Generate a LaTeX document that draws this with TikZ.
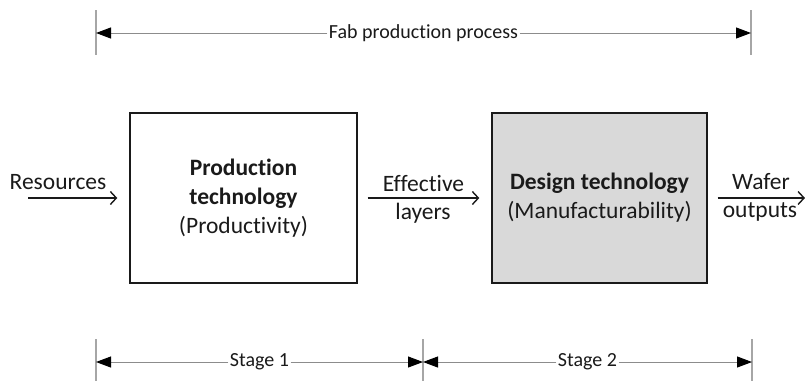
\documentclass[tikz,border=0pt]{standalone}
\usepackage{fontspec}
\setmainfont{Carlito}[Ligatures={NoCommon}]
\usetikzlibrary{arrows.meta}
\definecolor{ink}{HTML}{1A1A1A}
\definecolor{dimgray}{HTML}{8C8C8C}
\definecolor{tickgray}{HTML}{A6A6A6}
\definecolor{boxgray}{HTML}{D9D9D9}
\tikzset{
  procbox/.style={draw=ink, line width=1.4pt, minimum width=227pt, minimum height=170pt,
    align=center, text=ink, inner sep=0pt, font=\fontsize{23.5}{29}\selectfont},
  flow/.style={draw=ink, line width=1.4pt, -{Straight Barb[length=6pt,width=13pt]}},
  flowlabel/.style={text=ink, inner sep=0pt, font=\fontsize{23.5}{28}\selectfont},
  dimline/.style={draw=dimgray, line width=1pt, -{Triangle[length=15pt,width=11pt,color=black]}},
  dimlabel/.style={fill=white, inner sep=1.5pt, text=ink, font=\fontsize{20}{24}\selectfont},
  ticker/.style={draw=tickgray, line width=1.2pt}
}
\begin{document}
\begin{tikzpicture}[x=1pt, y=-1pt]
  \useasboundingbox (0,0) rectangle (805,381);

  % the two stages
  \node[procbox, minimum width=227pt] (prod) at (243.5,198)
    {\textbf{Production}\\\textbf{technology}\\(Productivity)};
  \node[procbox, fill=boxgray, minimum width=215pt] (design) at (599.5,198)
    {\textbf{Design technology}\\(Manufacturability)};

  % material flow
  \coordinate (resin) at (28,198);
  \coordinate (waferout) at (805,198);
  \draw[flow, shorten >=12pt] (resin) -- (prod.west);
  \draw[flow, shorten <=10pt, shorten >=12pt] (prod.east) -- (design.west);
  \draw[flow, shorten <=10pt] (design.east) -- (waferout);

  \node[flowlabel] (reslab) at (58,182) {Resources};
  \node[flowlabel] (efflab) at (423.5,183) {Effective};
  \node[flowlabel] (laylab) at (423,213) {layers};
  \node[flowlabel] (waflab) at (761,182) {Wafer};
  \node[flowlabel] (outlab) at (760,212) {outputs};

  % overall process span
  \coordinate (ta1) at (96,10);   \coordinate (tb1) at (96,55);
  \coordinate (ta2) at (751,10);  \coordinate (tb2) at (751,55);
  \draw[ticker] (ta1) -- (tb1);
  \draw[ticker] (ta2) -- (tb2);
  \coordinate (fl) at (96,33);
  \coordinate (fr) at (751,33);
  \node[dimlabel] (fab) at (423.5,33) {Fab production process};
  \draw[dimline] (fab) -- (fl);
  \draw[dimline] (fab) -- (fr);

  % stage spans
  \coordinate (sa1) at (96,339);   \coordinate (sb1) at (96,381);
  \coordinate (sa2) at (423,339);  \coordinate (sb2) at (423,381);
  \coordinate (sa3) at (752,339);  \coordinate (sb3) at (752,381);
  \draw[ticker] (sa1) -- (sb1);
  \draw[ticker] (sa2) -- (sb2);
  \draw[ticker] (sa3) -- (sb3);
  \coordinate (s1l) at (96,362);
  \coordinate (s1r) at (423,362);
  \coordinate (s2r) at (752,362);
  \node[dimlabel] (st1) at (259.5,362) {Stage 1};
  \node[dimlabel] (st2) at (587.5,362) {Stage 2};
  \draw[dimline] (st1) -- (s1l);
  \draw[dimline] (st1) -- (s1r);
  \draw[dimline] (st2) -- (s1r);
  \draw[dimline] (st2) -- (s2r);
\end{tikzpicture}
\end{document}
